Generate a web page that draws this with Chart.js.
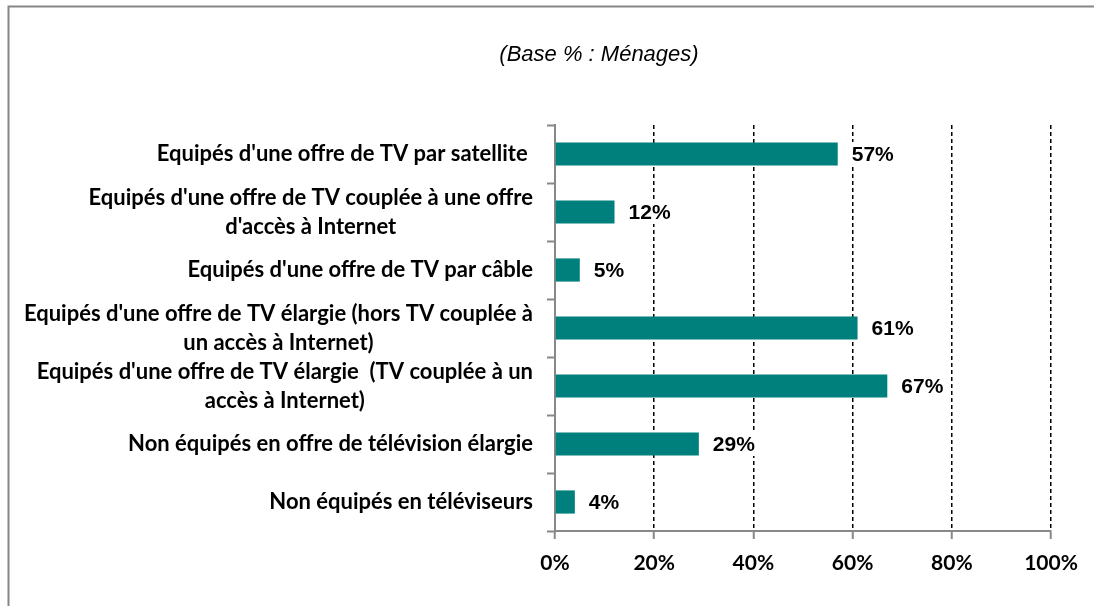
<!DOCTYPE html>
<html>
<head>
<meta charset="utf-8">
<script src="https://cdn.jsdelivr.net/npm/chart.js@4"></script>
<style>
  body { margin: 0; background: #fff; }
</style>
</head>
<body>
<canvas id="chart" width="1094" height="606"></canvas>
<script>
// libellés des lignes (une entrée = une ligne de texte)
const categories = [
    ["Equipés d'une offre de TV par satellite "],
    ["Equipés d'une offre de TV couplée à une offre", "d'accès à Internet"],
    ["Equipés d'une offre de TV par câble"],
    ["Equipés d'une offre de TV élargie (hors TV couplée à", "un accès à Internet)"],
    ["Equipés d'une offre de TV élargie  (TV couplée à un", "accès à Internet)"],
    ["Non équipés en offre de télévision élargie"],
    ["Non équipés en téléviseurs"]
];
const values = [57, 12, 5, 61, 67, 29, 4];
const xTicks = [0, 20, 40, 60, 80, 100];
const subtitle = '(Base % : Ménages)';

const labelFont = 'bold 22px Lato, "Open Sans", sans-serif';
const valueFont = 'bold 21px "Liberation Sans", Arial, sans-serif';

// cadre, sous-titre, libellés et valeurs dessinés à la main
const extras = {
    id: 'extras',
    beforeDraw(chart) {
        const ctx = chart.ctx;
        ctx.save();
        ctx.fillStyle = '#fff';
        ctx.fillRect(0, 0, chart.width, chart.height);
        ctx.strokeStyle = '#868686';
        ctx.lineWidth = 2;
        ctx.beginPath();
        ctx.moveTo(8.5, chart.height);
        ctx.lineTo(8.5, 6.5);
        ctx.lineTo(chart.width, 6.5);
        ctx.stroke();
        ctx.font = 'italic 22px "Liberation Sans", Arial, sans-serif';
        ctx.fillStyle = '#000';
        ctx.textAlign = 'center';
        ctx.textBaseline = 'middle';
        ctx.fillText(subtitle, 599, 55);
        ctx.restore();
    },
    afterDatasetsDraw(chart) {
        const ctx = chart.ctx;
        const yScale = chart.scales.y;
        const meta = chart.getDatasetMeta(0);
        ctx.save();
        ctx.fillStyle = '#000';
        ctx.textBaseline = 'middle';

        // libellés de catégories : bloc aligné à droite, lignes centrées
        ctx.font = labelFont;
        ctx.textAlign = 'center';
        chart.data.labels.forEach((lines, i) => {
            const yc = yScale.getPixelForValue(i);
            let w = 0;
            for (let l of lines) w = Math.max(w, ctx.measureText(l).width);
            const cx = 533 - w / 2;
            lines.forEach((l, j) => {
                ctx.fillText(l, cx, yc + (j - (lines.length - 1) / 2) * 29);
            });
        });

        // valeurs en bout de barre
        ctx.font = valueFont;
        ctx.textAlign = 'left';
        meta.data.forEach((bar, i) => {
            const txt = chart.data.datasets[0].data[i] + '%';
            const x = bar.x + 14;
            const w = ctx.measureText(txt).width;
            ctx.fillStyle = '#fff';
            ctx.fillRect(x - 3, bar.y - 12, w + 6, 24);
            ctx.fillStyle = '#000';
            ctx.fillText(txt, x, bar.y + 1);
        });
        ctx.restore();
    }
};

new Chart(document.getElementById('chart'), {
    type: 'bar',
    data: {
        labels: categories,
        datasets: [{
            data: values,
            backgroundColor: '#00807C',
            barPercentage: 0.4,
            categoryPercentage: 1
        }]
    },
    options: {
        indexAxis: 'y',
        responsive: false,
        animation: false,
        layout: { padding: { left: 545, right: 43, top: 125, bottom: 25 } },
        plugins: {
            legend: { display: false },
            tooltip: { enabled: false }
        },
        scales: {
            x: {
                min: xTicks[0],
                max: xTicks[xTicks.length - 1],
                afterBuildTicks: s => { s.ticks = xTicks.map(v => ({ value: v })); },
                afterFit: s => { s.height = 50; },
                ticks: {
                    callback: v => v + '%',
                    color: '#000',
                    padding: 12,
                    font: { family: 'Lato, "Open Sans", sans-serif', weight: 'bold', size: 21 }
                },
                grid: {
                    color: c => c.index === 0 ? 'rgba(0,0,0,0)' : '#000',
                    lineWidth: 1.5,
                    tickColor: '#888',
                    tickWidth: 2,
                    tickLength: 8,
                    tickBorderDash: []
                },
                border: { display: true, color: '#888', width: 2, dash: [4, 3] }
            },
            y: {
                afterFit: s => { s.width = 10; },
                ticks: { display: false },
                grid: {
                    offset: true,
                    drawOnChartArea: false,
                    drawTicks: true,
                    tickLength: 8,
                    tickWidth: 2,
                    tickColor: '#888',
                    color: '#888'
                },
                border: { display: true, color: '#888', width: 2 }
            }
        }
    },
    plugins: [extras]
});
</script>
</body>
</html>
